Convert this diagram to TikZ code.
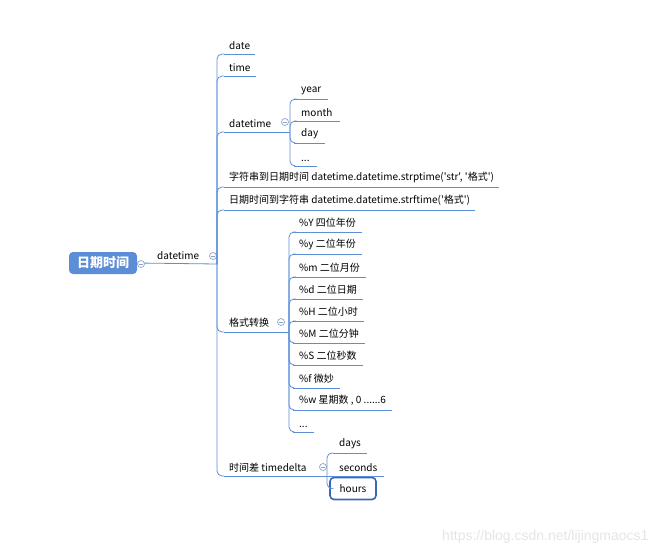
\documentclass[tikz,border=0pt]{standalone}
\usepackage{fontspec}
\setmainfont{Noto Sans CJK SC}
\newfontfamily\cjk{Noto Sans CJK SC}
\newfontfamily\markfont{Liberation Sans}

\definecolor{mapline}{HTML}{5B8FD8}
\definecolor{rootblue}{HTML}{5B8ED6}
\definecolor{foldgray}{HTML}{8EA6C6}
\definecolor{hoursblue}{HTML}{3B67B2}

\tikzset{
  branch/.style={draw=mapline, line width=0.8pt},
  link/.style={branch, rounded corners=5pt},
  topic/.style={anchor=south west, inner xsep=5pt, inner ysep=4pt, font=\cjk\fontsize{10}{12}\selectfont},
  fold/.style={circle, draw=foldgray, fill=white, line width=0.7pt, inner sep=0pt, minimum size=7pt,
    path picture={\draw[foldgray, line width=0.7pt] ([xshift=1.5pt]path picture bounding box.west) -- ([xshift=-1.5pt]path picture bounding box.east);}},
}

\begin{document}
\begin{tikzpicture}[x=1pt, y=-1pt]
  \useasboundingbox (0,0) rectangle (659,555);

  % root and first branch
  \node[fill=rootblue, rounded corners=4pt, minimum width=68pt, minimum height=22pt, text=white,
    font=\cjk\fontsize{13}{15}\selectfont\bfseries] (root) at (103,263) {日期时间};
  \coordinate (j1) at (217,264);
  \draw[branch] (root.east) -- (j1);
  \node[fold] (c0) at (141,264) {};
  \node[topic] (dt) at (152,264) {datetime};
  \node[fold] (c1) at (213,256) {};

  % children of datetime
  \node[topic] (date) at (224,54) {date};
  \node[topic] (time) at (224,76) {time};
  \node[topic] (dtobj) at (224,132) {datetime};
  \node[topic] (strp) at (224,187) {字符串到日期时间 datetime.datetime.strptime('str', '格式')};
  \node[topic] (strf) at (224,210) {日期时间到字符串 datetime.datetime.strftime('格式')};
  \node[topic] (fmt) at (224,332) {格式转换};
  \node[topic] (delta) at (224,476) {时间差 timedelta};
  \foreach \n in {date,time,dtobj,strp,strf,fmt,delta}
    \draw[link] (j1) |- (\n.south west);
  \foreach \n in {date,time,strp,strf}
    \draw[branch] (\n.south west) -- (\n.south east);

  % datetime object
  \coordinate (j2) at (290,132);
  \draw[branch] (dtobj.south west) -- (j2);
  \node[fold] (c2) at (285,122) {};
  \node[topic, inner xsep=7pt] (year) at (294,99) {year};
  \node[topic, inner xsep=7pt] (month) at (294,121) {month};
  \node[topic, inner xsep=7pt] (day) at (294,143) {day};
  \node[topic, inner xsep=7pt] (dots1) at (294,166) {...};

  % format codes
  \coordinate (j3) at (289,332);
  \draw[branch] (fmt.south west) -- (j3);
  \node[fold] (c3) at (281,322) {};
  \node[topic, inner xsep=6pt] (fY) at (293,232) {\%Y 四位年份};
  \node[topic, inner xsep=6pt] (fy) at (293,254) {\%y 二位年份};
  \node[topic, inner xsep=6pt] (fm) at (293,277) {\%m 二位月份};
  \node[topic, inner xsep=6pt] (fd) at (293,299) {\%d 二位日期};
  \node[topic, inner xsep=6pt] (fH) at (293,321) {\%H 二位小时};
  \node[topic, inner xsep=6pt] (fM) at (293,343) {\%M 二位分钟};
  \node[topic, inner xsep=6pt] (fS) at (293,365) {\%S 二位秒数};
  \node[topic, inner xsep=6pt] (ff) at (293,388) {\%f 微妙};
  \node[topic, inner xsep=6pt] (fw) at (293,410) {\%w 星期数 , 0 ......6};
  \node[topic, inner xsep=6pt] (dots2) at (293,432) {...};

  \foreach \n in {year,month,day,dots1}
    \draw[link] (j2) |- (\n.south west);
  \foreach \n in {fY,fy,fm,fd,fH,fM,fS,ff,fw,dots2}
    \draw[link] (j3) |- (\n.south west);
  \foreach \n in {year,month,day,dots1,fY,fy,fm,fd,fH,fM,fS,ff,fw,dots2}
    \draw[branch] (\n.south west) -- (\n.south east);

  % timedelta
  \coordinate (j4) at (327,476);
  \draw[branch] (delta.south west) -- (j4);
  \node[fold] (c4) at (323,467) {};
  \node[topic, inner xsep=6pt] (days) at (333,453) {days};
  \node[topic, inner xsep=6pt] (seconds) at (333,476) {seconds};
  \node[draw=hoursblue, line width=1.6pt, rounded corners=4pt, minimum width=46pt, minimum height=22pt,
    font=\cjk\fontsize{10}{12}\selectfont] (hours) at (353,488.5) {hours};
  \draw[link] (j4) |- (days.south west);
  \draw[branch] (days.south west) -- (days.south east);
  \draw[branch] (j4) -- (seconds.south east);
  \draw[link] (j4) |- (hours.west);

  \node[anchor=east, text=black!10, font=\markfont\fontsize{14}{16}\selectfont] (mark) at (652,537) {https://blog.csdn.net/lijingmaocs1};
\end{tikzpicture}
\end{document}
